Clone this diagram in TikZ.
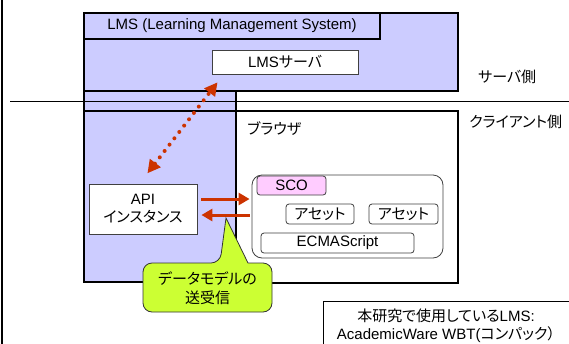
\documentclass[tikz,border=0pt]{standalone}
\usepackage{fontspec}
\setmainfont{Liberation Sans}
\newfontfamily\jpfont[RawFeature=+palt]{Noto Sans CJK JP}
\newcommand{\ja}[1]{{\jpfont #1}}
\usetikzlibrary{arrows.meta}
\definecolor{lmsfill}{HTML}{CCCCFF}
\definecolor{sig}{HTML}{CC3300}
\definecolor{lime}{HTML}{CCFF33}
\definecolor{scopink}{HTML}{FFCCFF}
\tikzstyle{thickframe}=[draw=black,line width=2.5pt]
\tikzstyle{plainbox}=[draw=black!75,fill=white,line width=0.8pt,inner sep=0pt,align=center]
\tikzstyle{roundbox}=[plainbox,rounded corners=3pt,minimum height=20pt]
\tikzstyle{flow}=[draw=sig,line width=3pt,-{Triangle[length=11pt,width=12pt]}]
\tikzstyle{dotflow}=[draw=sig,line width=4pt,line cap=round,dash pattern=on 0pt off 8pt,{Triangle[length=13pt,width=13pt]}-{Triangle[length=13pt,width=13pt]}]
\tikzstyle{sidelabel}=[anchor=west,inner sep=0pt]

\begin{document}
\begin{tikzpicture}[x=1pt,y=-1pt,font=\fontsize{15}{18}\selectfont]
    \useasboundingbox (0,0) rectangle (569,343);
    \draw[line width=2.5pt] (2,-5) -- (2,350);

    % server side
    \draw[thickframe,fill=lmsfill] (84,13) rectangle (458,91);
    \node[thickframe,line width=2pt,fill=lmsfill,minimum width=296pt,minimum height=26pt,inner sep=0pt] (title) at (232,26) {LMS (Learning Management System)};
    \node[plainbox,minimum width=146pt,minimum height=24pt] (srv) at (285,62) {LMS\ja{サーバ}};

    % client side
    \fill[lmsfill] (84,91) rectangle (236,282);
    \draw[line width=0.9pt] (10,101) -- (575,101);
    \draw[thickframe] (84,91) rectangle (236,282);
    \draw[thickframe] (84,111) -- (236,111);
    \draw[thickframe] (236,111) rectangle (458,283);

    \node[sidelabel] (srvside) at (478,77) {\ja{サーバ側}};
    \node[sidelabel] (cliside) at (469,122) {\ja{クライアント側}};
    \node[sidelabel] (browser) at (247,129) {\ja{ブラウザ}};

    \node[plainbox,minimum width=108pt,minimum height=50pt] (api) at (143,209) {API\\\ja{インスタンス}};

    \node[plainbox,rounded corners=10pt,minimum width=191pt,minimum height=83pt] (scobox) at (347.5,216.5) {};
    \node[roundbox,fill=scopink,minimum width=69pt,minimum height=19pt] (sco) at (291.5,185.5) {SCO};
    \node[roundbox,minimum width=68pt] (asset1) at (320,214) {\ja{アセット}};
    \node[roundbox,minimum width=69pt] (asset2) at (403.5,214) {\ja{アセット}};
    \node[roundbox,minimum width=153pt] (ecma) at (337.5,243) {ECMAScript};

    \draw[flow] ([xshift=4pt,yshift=10pt]api.east) -- ([xshift=-2pt,yshift=10pt]api.east -| scobox.west);
    \draw[flow] ([xshift=-2pt,yshift=-6pt]api.east -| scobox.west) -- ([xshift=4pt,yshift=-6pt]api.east);
    \draw[dotflow,shorten <=13pt,shorten >=10pt] ([xshift=-3.5pt]api.north) -- ([xshift=12pt]srv.south west);

    % callout
    \coordinate (tip) at (226,218);
    \draw[draw=black!80,fill=lime,line width=0.8pt] (143,287) [rounded corners=9pt] -- (143,263) -- (220,263) [sharp corners] -- (tip) -- (248,263) [rounded corners=9pt] -- (272,263) -- (272,312) -- (143,312) -- cycle;
    \node[align=center,inner sep=0pt] (talk) at (207.5,288) {\ja{データモデルの}\\[1pt]\ja{送受信}};

    % note
    \draw[line width=0.8pt] (323,301) rectangle (580,350);
    \node[align=center,inner sep=0pt] (note) at (446,326) {\ja{本研究で使用している}LMS:\\AcademicWare WBT(\ja{コンパック）}};
\end{tikzpicture}
\end{document}
